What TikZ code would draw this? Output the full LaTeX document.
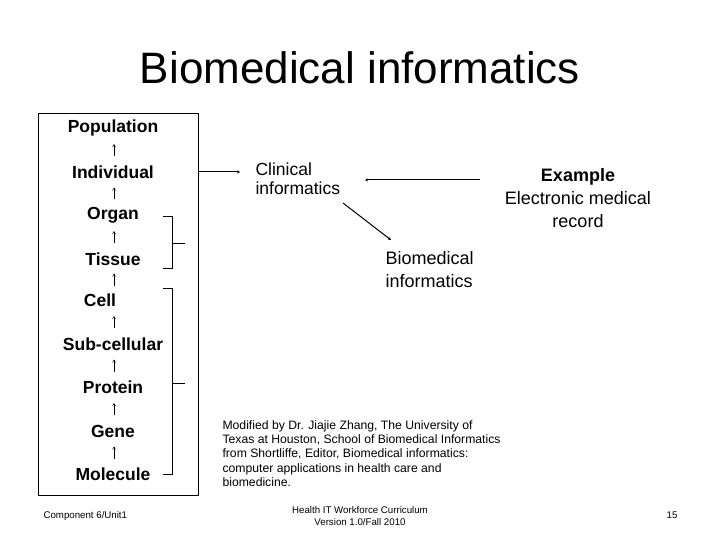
\documentclass[tikz,border=0pt]{standalone}
\usepackage{fontspec}
\setmainfont{Liberation Sans}
\usetikzlibrary{arrows.meta,calc}
\begin{document}
\begin{tikzpicture}[x=1pt,y=-1pt,
 lvl/.style={font=\fontsize{17.5}{20}\selectfont\bfseries,inner sep=1pt},
 up/.style={-{Straight Barb[length=2.5pt,width=3pt]},line width=0.5pt},
 con/.style={line width=1pt,-{Stealth[length=3pt,width=3pt]}},
 br/.style={line width=0.6pt}]
\useasboundingbox (0,0) rectangle (720,540);
\node[font=\fontsize{44}{48}\selectfont] (title) at (360,68) {Biomedical informatics};
\draw[line width=0.8pt] (38,113) rectangle (198,495);
\coordinate (xa) at (114,0);
\foreach \n/\t/\x/\y in {p/Population/113/128,i/Individual/113/172,o/Organ/113/215,t/Tissue/113/259,c/Cell/100/300,s/Sub-cellular/113/344,pr/Protein/113/387,g/Gene/113/431,m/Molecule/113/474}
  \node[lvl] (\n) at (\x,\y) {\t};
\foreach \a/\b in {i/p,o/i,t/o,c/t,s/c,pr/s,g/pr,m/g}
  \draw[up] ($(\a.center -| xa)!0.5!(\b.center -| xa)+(0,6)$) -- ($(\a.center -| xa)!0.5!(\b.center -| xa)+(0,-6)$);
\draw[br] (163,216) -- (172,216) -- (172,268) -- (163,268);
\draw[br] (172,243) -- (185,243);
\draw[br] (163,288) -- (172,288) -- (172,474) -- (163,474);
\draw[br] (172,383) -- (185,383);
\node[align=left,anchor=north west,font=\fontsize{17.5}{19}\selectfont] (ci) at (252,159) {Clinical\\informatics};
\node[align=center,anchor=north,font=\fontsize{18}{23}\selectfont] (ex) at (578,165) {\textbf{Example}\\Electronic medical\\record};
\node[align=left,anchor=north west,font=\fontsize{18}{23}\selectfont] (bi) at (382,248) {Biomedical\\informatics};
\coordinate (a0) at (198,172); \coordinate (a1) at (240,172);
\draw[con] (a0) -- (a1);
\coordinate (b0) at (480,180); \coordinate (b1) at (365,180);
\draw[con] (b0) -- (b1);
\coordinate (d0) at (343,203); \coordinate (d1) at (391,240);
\draw[con] (d0) -- (d1);
\node[align=left,anchor=north west,font=\fontsize{12.2}{14.3}\selectfont] (mod) at (219,417) {Modified by Dr. Jiajie Zhang, The University of\\Texas at Houston, School of Biomedical Informatics\\from Shortliffe, Editor, Biomedical informatics:\\computer applications  in health care and\\biomedicine.};
\node[anchor=west,font=\fontsize{9.7}{11}\selectfont] (f1) at (40,516) {Component 6/Unit1};
\node[align=center,font=\fontsize{9.7}{12}\selectfont] (f2) at (360,516) {Health IT Workforce Curriculum\\Version 1.0/Fall 2010};
\node[font=\fontsize{9.7}{11}\selectfont] (f3) at (672,515) {15};
\end{tikzpicture}
\end{document}
